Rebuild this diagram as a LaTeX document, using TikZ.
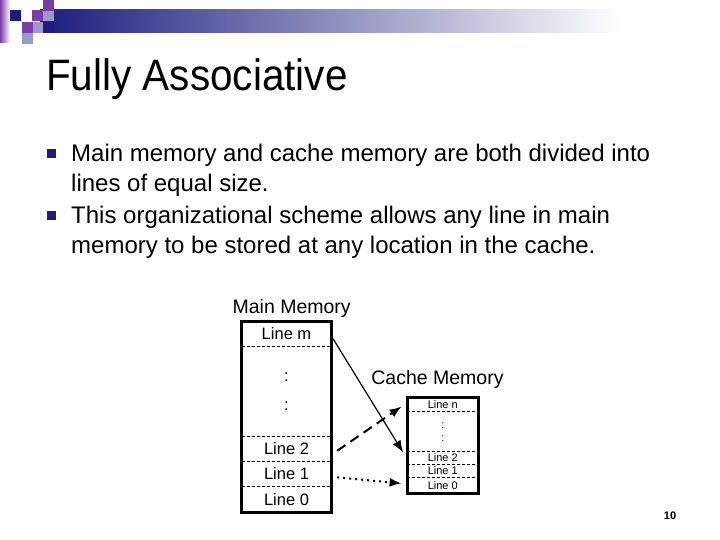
\documentclass[tikz,border=0pt]{standalone}
\usepackage{fontspec}
\setmainfont{Liberation Sans}
\usetikzlibrary{arrows.meta,positioning}
\definecolor{colorNavy}{HTML}{1C1C7E}
\definecolor{colorPurple}{HTML}{7A3DA8}
\definecolor{colorLavender}{HTML}{9A9ACC}
\def\colorNavy{colorNavy}
\def\colorPurple{colorPurple}
\def\colorLavender{colorLavender}

\begin{document}
\begin{tikzpicture}[x=1pt,y=-1pt,
  mcell/.style={minimum width=89, inner sep=0, align=center,
    font=\fontsize{16.5}{29}\selectfont},
  ccell/.style={minimum width=71, inner sep=0, align=center,
    font=\fontsize{11}{12.7}\selectfont},
  sep/.style={densely dashed, line width=1},
  box/.style={line width=3}]
\useasboundingbox (0,0) rectangle (720,540);

% Bandeau du haut
\shade[left color=\colorNavy, right color=white] (40,10) rectangle (620,33);
\shade[left color=\colorPurple, right color=white] (0,0) rectangle (10,43);
\foreach \x/\y/\c in {10/10/colorNavy, 32/10/colorPurple, 43/10/colorLavender,
    43/0/colorPurple, 22/22/colorPurple, 33/22/colorLavender,
    43/22/colorNavy, 22/33/colorLavender}
  \fill[\c] (\x,\y) rectangle ++(11,11);

% Titre
\node[anchor=base west, inner sep=0, xscale=0.92,
  font=\fontsize{44}{50}\selectfont] (title) at (46,91) {Fully Associative};

% Les puces
\fill[\colorNavy] (46.5,149.5) rectangle ++(9,9);
\fill[\colorNavy] (46.5,211.5) rectangle ++(9,9);
\node[anchor=north west, inner sep=0, align=left,
  font=\fontsize{24}{30}\selectfont] (itemA) at (71,144)
  {Main memory and cache memory are both divided into\\lines of equal size.};
\node[anchor=north west, inner sep=0, align=left,
  font=\fontsize{24}{30}\selectfont] (itemB) at (71,206)
  {This organizational scheme allows any line in main\\memory to be stored at any location in the cache.};

% Memoire principale
\node[font=\fontsize{19.5}{22}\selectfont] (mainTitle) at (291.7,308) {Main Memory};
\node[mcell, minimum height=25] (mLm) at (286.5,334) {Line m};
\node[mcell, minimum height=89, below=0pt of mLm] (mDots) {:\\:};
\node[mcell, minimum height=25, below=0pt of mDots] (mL2) {Line 2};
\node[mcell, minimum height=24.3, below=0pt of mL2] (mL1) {Line 1};
\node[mcell, minimum height=25.7, below=0pt of mL1] (mL0) {Line 0};
\draw[box] (mLm.north west) rectangle (mL0.south east);
\foreach \c in {mLm,mDots,mL2,mL1}
  \draw[sep] (\c.south west) -- (\c.south east);

% Memoire cache
\node[font=\fontsize{19.5}{22}\selectfont] (cacheTitle) at (437.5,379) {Cache Memory};
\node[ccell, minimum height=14.4] (cLn) at (442.8,404.5) {Line n};
\node[ccell, minimum height=39.3, below=0pt of cLn] (cDots) {:\\:};
\node[ccell, minimum height=12.3, below=0pt of cDots] (cL2) {Line 2};
\node[ccell, minimum height=12.7, below=0pt of cL2] (cL1) {Line 1};
\node[ccell, minimum height=15.7, below=0pt of cL1] (cL0) {Line 0};
\draw[box] (cLn.north west) rectangle (cL0.south east);
\foreach \c in {cLn,cDots,cL2,cL1}
  \draw[sep] (\c.south west) -- (\c.south east);

% Les fleches
\draw[-{Latex[length=12,width=9]}, line width=1.2]
  ([xshift=2,yshift=-5]mLm.east) -- ([xshift=-4,yshift=5.5]cL2.west);
\draw[-{Latex[length=12,width=9]}, line width=2, dash pattern=on 10 off 6]
  ([xshift=6,yshift=-2]mL2.east) -- ([xshift=-5.5,yshift=-2]cLn.west);
\draw[-{Latex[length=12,width=9]}, line width=2, dash pattern=on 2 off 4]
  ([xshift=6,yshift=-3.5]mL1.east) -- ([xshift=-5.5,yshift=2]cL0.west);

% Numero de page
\node[font=\fontsize{11}{13}\selectfont\bfseries] (pageNum) at (670,516) {10};
\end{tikzpicture}
\end{document}
